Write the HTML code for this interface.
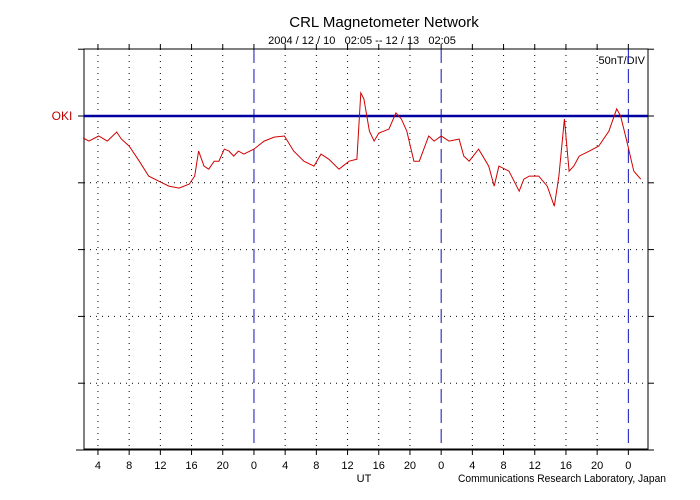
<!DOCTYPE html>
<html><head><meta charset="utf-8"><style>
body{margin:0;background:#fff}
svg{display:block;font-family:"Liberation Sans",sans-serif}
</style></head><body>
<svg id="chart" width="700" height="500" viewBox="0 0 700 500">
<text x="384" y="27" font-size="15" text-anchor="middle" fill="#000">CRL Magnetometer Network</text>
<text x="362" y="44" font-size="11" text-anchor="middle" fill="#000" style="white-space:pre">2004 / 12 / 10&#160;&#160;&#160;02:05 -- 12 / 13&#160;&#160;&#160;02:05</text>
<text x="645" y="64" font-size="11" text-anchor="end" fill="#000">50nT/DIV</text>
<text x="62" y="120" font-size="12" text-anchor="middle" fill="#c00000">OKI</text>
<text x="364" y="482" font-size="11" text-anchor="middle" fill="#000">UT</text>
<text x="666" y="482" font-size="11" text-anchor="end" fill="#000" textLength="208" lengthAdjust="spacingAndGlyphs">Communications Research Laboratory, Japan</text>
<g id="grid"></g>
<g id="marks"></g>
</svg>
<script>
const hours=[2.1,2.85,4.1,5.2,6.4,7.0,8.0,9.3,10.5,11.8,13.1,14.4,15.7,16.4,16.9,17.6,18.2,18.9,19.5,20.2,20.8,21.4,22.0,22.7,24.0,25.3,26.6,27.9,29.1,30.4,31.7,32.6,33.6,34.9,36.2,37.2,37.7,38.1,38.8,39.4,40.0,41.3,42.2,42.9,43.6,44.5,45.2,46.4,47.1,48.0,49.0,50.3,50.9,51.6,52.8,54.1,54.8,55.4,56.7,58.0,58.6,59.3,60.5,61.6,62.5,63.1,63.8,64.4,65.0,65.7,67.0,68.2,69.5,70.5,71.0,71.8,72.7,73.6];
const okiValues=[-16.5,-18.8,-15,-18.8,-12,-17.3,-22.5,-33.8,-45,-48.8,-52.5,-54,-51,-45,-26.3,-37.5,-39.8,-33.8,-33.8,-24.8,-26.3,-30,-26.3,-28.5,-24.8,-18.8,-15.8,-15,-26.3,-33.8,-37.5,-28.5,-32.3,-39.8,-33.8,-32.3,17.3,12.8,-11.3,-18.8,-12.8,-9.8,2.3,-2.3,-11.3,-33.8,-33.8,-15,-18.8,-15,-18.8,-17.3,-30,-33.8,-24.8,-37.5,-52.5,-37.5,-41.3,-56.3,-47.3,-45,-45,-52.5,-67.5,-45,-2.3,-41.3,-37.5,-30,-26.3,-22.5,-11.3,5.3,0,-18.8,-41.3,-47.3];
const tickHours=[4,8,12,16,20,24,28,32,36,40,44,48,52,56,60,64,68,72];
const tickLabels=["4","8","12","16","20","0","4","8","12","16","20","0","4","8","12","16","20","0"];
const yDivs=[50,0,-50,-100,-150,-200,-250];

const L=84,R=648,T=49,B=449,startH=2.083,pxH=7.8,base=116,pxNT=66.8/50;
const xS=h=>L+(h-startH)*pxH-1;
const yS=v=>base-v*pxNT;
const NS="http://www.w3.org/2000/svg";
const g=document.getElementById('grid'),m=document.getElementById('marks');
function mk(tag,a,p){const e=document.createElementNS(NS,tag);for(const k in a)e.setAttribute(k,a[k]);p.appendChild(e);return e;}

tickHours.forEach((h,i)=>{
  const x=xS(h);const day=h%24===0;
  const ln=mk('line',{x1:x,y1:T,x2:x,y2:B,stroke:day?'#1010c0':'#000','stroke-width':1,'stroke-dasharray':day?'14,6':'1,5'},g);
  
  
  const tk=mk('line',{x1:x,y1:B,x2:x,y2:B+6,stroke:'#000'},g);
  
  
  const tt=mk('line',{x1:x,y1:T-5,x2:x,y2:T,stroke:'#000'},g);
  
  
  const t=mk('text',{x:x,y:469,'font-size':11,'text-anchor':'middle',fill:'#000'},g);
  t.textContent=tickLabels[i];
  
  
});
yDivs.forEach(v=>{
  const y=yS(v);
  if(v!==50&&v!==0&&v!==-250){
    const ln=mk('line',{x1:L,y1:y,x2:R,y2:y,stroke:'#000','stroke-dasharray':'1,5'},g);
    
    
  }
  const a=mk('line',{x1:L-6,y1:y,x2:L,y2:y,stroke:'#000'},g);
  
  
  const b=mk('line',{x1:R,y1:y,x2:R+6,y2:y,stroke:'#000'},g);
  
  
});
const fr=mk('rect',{x:L,y:T,width:R-L,height:B-T,fill:'none',stroke:'#000'},g);


const ax=mk('line',{x1:L-8,y1:B+1,x2:R+6,y2:B+1,stroke:'#000'},g);


const bl=mk('line',{x1:L,y1:yS(0),x2:R,y2:yS(0),stroke:'#0000a0','stroke-width':2.5},m);


const pts=hours.map((h,i)=>xS(h).toFixed(1)+','+yS(okiValues[i]).toFixed(1)).join(' ');
const pl=mk('polyline',{points:pts,fill:'none',stroke:'#d00000','stroke-width':1},m);


</script>
</body></html>
